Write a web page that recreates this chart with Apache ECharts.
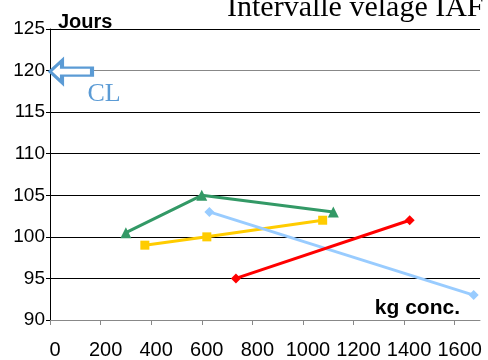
<!DOCTYPE html>
<html><head><meta charset="utf-8">
<script src="https://cdn.jsdelivr.net/npm/echarts@6/dist/echarts.min.js"></script>
<style>html,body{margin:0;padding:0;background:#fff}#c{width:488px;height:360px}</style>
</head><body><div id="c"></div>
<script>
var titleText = 'Intervalle vêlage IAF';
var yName = 'Jours';
var xName = 'kg conc.';
var clLabel = 'CL';
var clValue = [0, 120];
var greenData = [[300, 100.5], [600, 105], [1120, 103]];
var yellowData = [[375, 99], [620, 100], [1078, 102]];
var blueData = [[630, 103], [1675, 93]];
var redData = [[735, 95], [1422, 102]];

var chart = echarts.init(document.getElementById('c'));
var sans = 'Liberation Sans, Arial, sans-serif';
var serif = 'Liberation Serif, Times New Roman, serif';
function line(data, color, symbol) {
  return {
    type: 'line', data: data, symbol: symbol, symbolSize: symbol === 'triangle' ? 11 : (symbol === 'rect' ? 9 : 10),
    lineStyle: { color: color, width: 3 }, itemStyle: { color: color }, animation: false, z: 3
  };
}
var s4 = line(blueData, '#99CCFF', 'diamond');
s4.markPoint = {
  symbol: 'path://M0,11 L12,0 L12,7 L42,7 L42,15 L12,15 L12,22 Z',
  symbolSize: [42, 22], symbolOffset: [21, 1], symbolKeepAspect: false,
  itemStyle: { color: '#fff', borderColor: '#5B9BD5', borderWidth: 3 },
  label: { show: true, formatter: clLabel, color: '#5B9BD5', fontFamily: serif, fontSize: 26,
    position: 'inside', offset: [33, 23] },
  data: [{ coord: clValue }], animation: false
};
chart.setOption({
  animation: false,
  title: { text: titleText, left: 222, top: -12, textStyle: { fontFamily: serif, fontWeight: 'normal', fontSize: 30, color: '#000' } },
  grid: { left: 50, right: 8, top: 29, bottom: 40 },
  xAxis: {
    type: 'value', min: 0, max: 1700, interval: 200,
    name: xName, nameLocation: 'end', nameGap: -20,
    nameTextStyle: { fontFamily: sans, fontWeight: 'bold', fontSize: 21, color: '#000', align: 'right', verticalAlign: 'bottom', padding: [0, 0, 1, 0] },
    axisLine: { lineStyle: { color: '#888', width: 1 } },
    axisTick: { show: true, length: 5, lineStyle: { color: '#888' } },
    axisLabel: { fontFamily: sans, fontSize: 20, color: '#000', margin: 20, showMaxLabel: false,
      padding: [0, 0, 0, 10], formatter: function (v) { return String(v); } },
    splitLine: { show: false }
  },
  yAxis: {
    type: 'value', min: 90, max: 125, interval: 5,
    name: yName, nameLocation: 'end', nameGap: -3,
    nameTextStyle: { fontFamily: sans, fontWeight: 'bold', fontSize: 20, color: '#000', align: 'left', padding: [0, 0, 0, 8] },
    axisLine: { show: true, lineStyle: { color: '#000', width: 1 } },
    axisTick: { show: true, length: 4, lineStyle: { color: '#000' } },
    axisLabel: { fontFamily: sans, fontSize: 19, color: '#000', margin: 5 },
    splitLine: { show: true, lineStyle: { color: ['#000', '#000', '#000', '#000', '#000', '#000', '#888'], width: 1 } }
  },
  series: [
    line(greenData, '#339966', 'triangle'),
    line(yellowData, '#FFCC00', 'rect'),
    s4,
    line(redData, '#FF0000', 'diamond')
  ]
});
</script></body></html>
